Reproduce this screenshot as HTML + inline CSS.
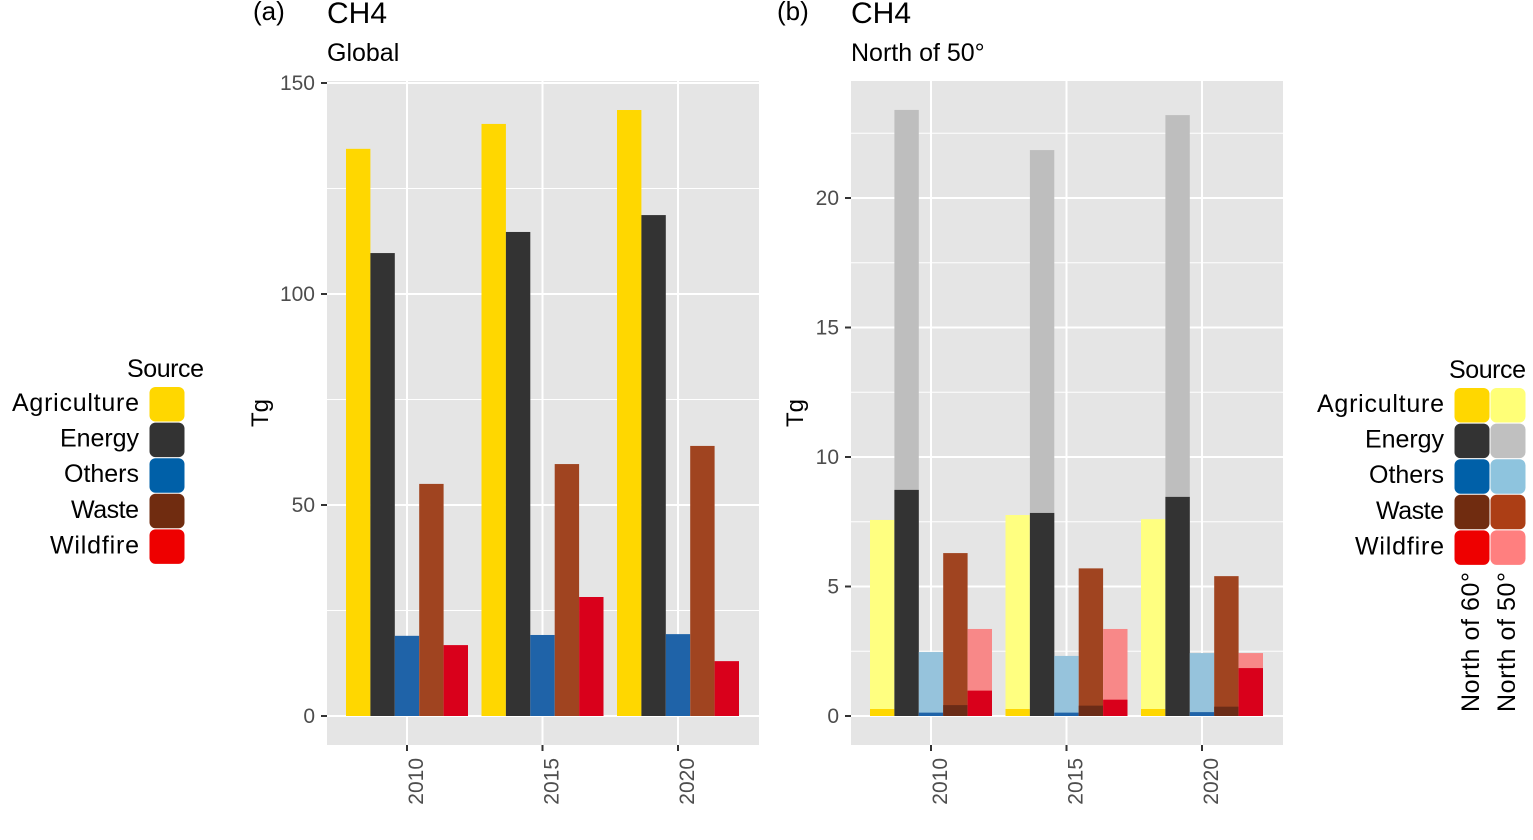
<!DOCTYPE html>
<html><head><meta charset="utf-8"><style>
body{margin:0;background:#fff}
svg text{font-family:"Liberation Sans",sans-serif}
</style></head><body>
<svg id="c" width="1533" height="835" viewBox="0 0 1533 835" xmlns="http://www.w3.org/2000/svg"></svg>
<script>
const years=[2010,2015,2020];
const sources=["Agriculture","Energy","Others","Waste","Wildfire"];
const globalAgri=[134.4,140.3,143.6];
const globalEnergy=[109.7,114.7,118.7];
const globalOthers=[19.0,19.2,19.4];
const globalWaste=[55.0,59.7,64.0];
const globalWildfire=[16.8,28.2,13.0];
const n50Agri=[7.57,7.76,7.6];
const n50Energy=[23.4,21.85,23.2];
const n50Others=[2.47,2.32,2.43];
const n50Waste=[6.29,5.7,5.4];
const n50Wildfire=[3.36,3.36,2.43];
const n60Agri=[0.27,0.27,0.27];
const n60Energy=[8.73,7.84,8.46];
const n60Others=[0.13,0.13,0.15];
const n60Waste=[0.42,0.4,0.36];
const n60Wildfire=[0.98,0.63,1.85];
const ticksA=[0,50,100,150];
const ticksB=[0,5,10,15,20];

const svg=document.getElementById('c');
const NS='http://www.w3.org/2000/svg';
function mk(tag,at,txt,name){const e=document.createElementNS(NS,tag);for(const k in at)e.setAttribute(k,at[k]);if(txt!==undefined)e.textContent=txt;


svg.appendChild(e);return e;}

const darkC=["#FFD700","#333333","#1F63A8","#6B2C17","#D9001B"];
const lightC=["#FFFF80","#BEBEBE","#96C3DC","#A04420","#F88888"];
const barC=["#FFD700","#333333","#1F63A8","#A04420","#D9001B"];

function panel(px,ylim,ticks,minorStep,series,lightSeries,label,sub,ylabelX){
  const top=81,bot=745,w=432;
  const y0=716, ppu=(716-83)/ (ylim);
  const ys=v=>y0-v*ppu;
  const xs=yr=>px+80+(yr-2010)*27.1;
  mk('rect',{x:px,y:top,width:w,height:bot-top,fill:'#E5E5E5'},undefined,'panel-bg');
  for(let v=minorStep;ys(v)>top;v+=minorStep*2){mk('line',{x1:px,x2:px+w,y1:ys(v),y2:ys(v),stroke:'#fff','stroke-width':1},undefined,'minor-gridline');}
  ticks.forEach(t=>{mk('line',{x1:px,x2:px+w,y1:ys(t),y2:ys(t),stroke:'#fff','stroke-width':2},undefined,'major-gridline');
    mk('line',{x1:px-6,x2:px,y1:ys(t),y2:ys(t),stroke:'#333','stroke-width':2},undefined,'y-tick');
    mk('text',{x:px-12,y:ys(t)+7,'text-anchor':'end','font-size':21,fill:'#4D4D4D'},String(t),'y-tick-label');});
  years.forEach(yr=>{const x=xs(yr);mk('line',{x1:x,x2:x,y1:top,y2:bot,stroke:'#fff','stroke-width':2},undefined,'x-gridline');
    mk('line',{x1:x,x2:x,y1:bot,y2:bot+6,stroke:'#333','stroke-width':2},undefined,'x-tick');
    mk('text',{x:0,y:0,'text-anchor':'end','font-size':21,fill:'#4D4D4D',transform:`translate(${x+16},758) rotate(-90)`},String(yr),'x-tick-label');});
  const bw=24.4;
  years.forEach((yr,i)=>{const c=xs(yr);
    for(let s=0;s<5;s++){const x=c-61+s*bw;
      if(lightSeries){const v=lightSeries[s][i];mk('rect',{x:x,y:ys(v),width:bw,height:y0-ys(v),fill:lightC[s]},undefined,'bar-north50-'+sources[s].toLowerCase());
        const d=series[s][i];mk('rect',{x:x,y:ys(d),width:bw,height:y0-ys(d),fill:darkC[s]},undefined,'bar-north60-'+sources[s].toLowerCase());}
      else{const v=series[s][i];mk('rect',{x:x,y:ys(v),width:bw,height:y0-ys(v),fill:barC[s]},undefined,'bar-'+sources[s].toLowerCase()+'-'+yr);}
    }});
  mk('text',{x:px-74,y:20,'font-size':26,fill:'#000'},label,'panel-label');
  mk('text',{x:px,y:23,'font-size':30,fill:'#000'},'CH4','plot-title');
  mk('text',{x:px,y:61,'font-size':25,fill:'#000'},sub,'plot-subtitle');
  mk('text',{x:0,y:0,'text-anchor':'middle','font-size':24,fill:'#000',transform:`translate(${ylabelX},413) rotate(-90)`},'Tg','y-axis-title');
}
panel(327,150,ticksA,25,[globalAgri,globalEnergy,globalOthers,globalWaste,globalWildfire],null,'(a)','Global',268);
panel(851,24.44,ticksB,2.5,[n60Agri,n60Energy,n60Others,n60Waste,n60Wildfire],[n50Agri,n50Energy,n50Others,n50Waste,n50Wildfire],'(b)','North of 50°',803);

const lens=[127,79,75,68,89];
mk('text',{x:204,y:377,'text-anchor':'end','font-size':25,fill:'#000',textLength:77},'Source','legend-title');
const legDark=["#FFD700","#333333","#0060A8","#702C10","#EE0000"];
const legLight=["#FFFF77","#C0C0C0","#8EC4DE","#AC3E15","#FF7F7F"];
sources.forEach((s,i)=>{const y=387+i*35.6;
  mk('rect',{x:149.5,y:y,width:35,height:34.5,rx:6,fill:legDark[i]},undefined,'legend-key-'+s.toLowerCase());
  mk('text',{x:139-lens[i],y:y+24,'font-size':25,fill:'#000',textLength:lens[i]},s,'legend-label');});
mk('text',{x:1449,y:378,'font-size':25,fill:'#000',textLength:77},'Source','legend-title-b');
sources.forEach((s,i)=>{const y=388+i*35.6;
  mk('rect',{x:1454.5,y:y,width:35,height:34.5,rx:6,fill:legDark[i]},undefined,'legend-key-north60-'+s.toLowerCase());
  mk('rect',{x:1490.5,y:y,width:35,height:34.5,rx:6,fill:legLight[i]},undefined,'legend-key-north50-'+s.toLowerCase());
  mk('text',{x:1444-lens[i],y:y+24,'font-size':25,fill:'#000',textLength:lens[i]},s,'legend-label-b');});
mk('text',{x:0,y:0,'font-size':25,fill:'#000',textLength:140,transform:'translate(1479,712) rotate(-90)'},'North of 60°','legend-col-north60');
mk('text',{x:0,y:0,'font-size':25,fill:'#000',textLength:140,transform:'translate(1515,712) rotate(-90)'},'North of 50°','legend-col-north50');
</script>
</body></html>
